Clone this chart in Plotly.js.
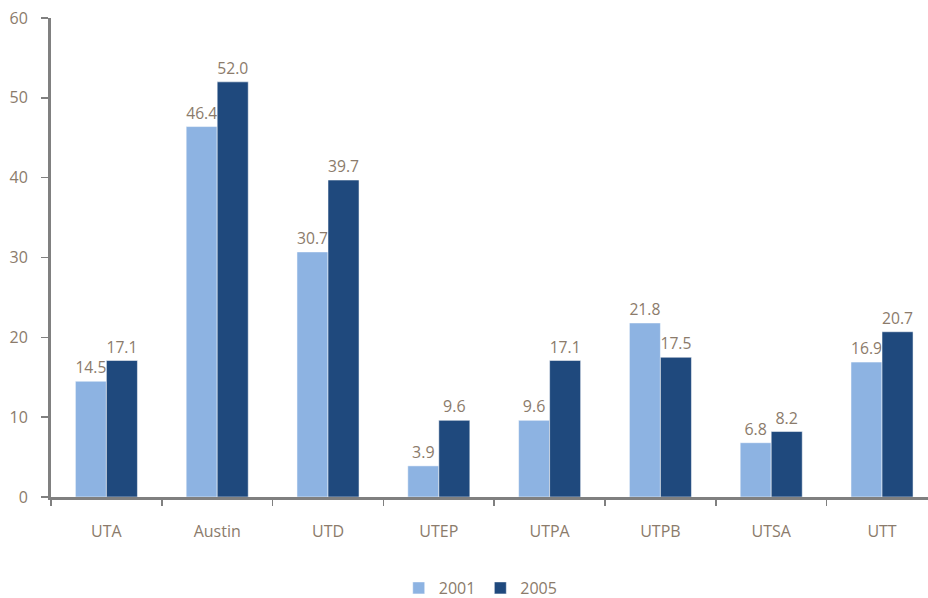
<!DOCTYPE html>
<html><head><meta charset="utf-8">
<script src="https://cdn.plot.ly/plotly-3.0.1.min.js"></script>
<style>html,body{margin:0;padding:0;background:#fff;overflow:hidden}</style>
</head><body>
<div id="chart" style="width:928px;height:598px"></div>
<script>
const categories = ["UTA","Austin","UTD","UTEP","UTPA","UTPB","UTSA","UTT"];
const values2001 = [14.5,46.4,30.7,3.9,9.6,21.8,6.8,16.9];
const values2005 = [17.1,52.0,39.7,9.6,17.1,17.5,8.2,20.7];
const yTicks = [0,10,20,30,40,50,60];
const textColor = "#8B7B6B";
const fontFamily = "'Open Sans', 'DejaVu Sans', sans-serif";
function trace(name, vals, color){
  return {type:"bar", name:name, x:categories, y:vals,
    text: vals.map(v=>v.toFixed(1)), textposition:"outside", cliponaxis:false,
    textfont:{color:textColor, size:16, family:fontFamily},
    marker:{color:color, line:{color:"rgba(255,255,255,0.5)", width:1}},
    hoverinfo:"x+y"};
}
const data = [trace("2001", values2001, "#8DB3E2"), trace("2005", values2005, "#1F497D")];
const layout = {
  width:928, height:598,
  margin:{l:51, r:0, t:18, b:101, autoexpand:false},
  paper_bgcolor:"#fff", plot_bgcolor:"#fff",
  barmode:"group", bargap:0.44, bargroupgap:0,
  font:{family:fontFamily, color:textColor, size:16},
  xaxis:{range:[-0.5, 7.415], showline:true, linecolor:"#808080", linewidth:3, ticks:"outside", tickson:"boundaries",
    ticklen:6, tickwidth:1.5, tickcolor:"#808080", showgrid:false, ticklabelstandoff:18,
    tickfont:{size:16, color:textColor}, automargin:false},
  yaxis:{range:[0,60], tickvals:yTicks, showline:true, linecolor:"#808080", linewidth:3,
    ticks:"outside", ticklen:7, tickwidth:1.5, tickcolor:"#808080", showgrid:false, zeroline:false,
    ticklabelstandoff:10, tickfont:{size:16, color:textColor}, automargin:false},
  legend:{orientation:"h", x:0.49, xanchor:"center", y:-0.19, yanchor:"middle",
    font:{size:16, color:textColor}, itemwidth:30, traceorder:"normal"},
  showlegend:true
};
Plotly.newPlot("chart", data, layout, {displayModeBar:false, staticPlot:true});
</script>
</body></html>
